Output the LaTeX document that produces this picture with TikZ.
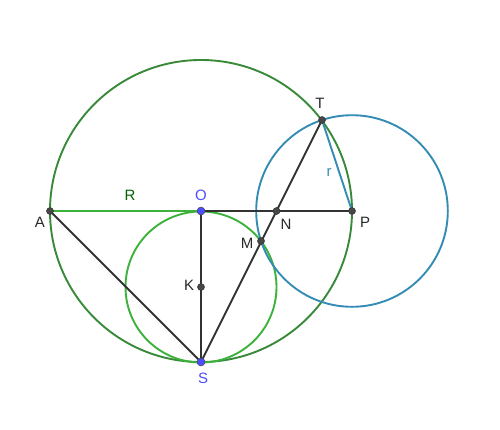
\documentclass[tikz,border=0pt]{standalone}
\usepackage{fontspec}
\setmainfont{Liberation Sans}
\definecolor{biggreen}{RGB}{56,138,56}
\definecolor{smallgreen}{RGB}{60,178,60}
\definecolor{circblue}{RGB}{52,140,180}
\definecolor{dkgreen}{RGB}{0,100,0}
\definecolor{ptblue}{RGB}{77,77,255}
\definecolor{lbl}{RGB}{40,40,40}
\definecolor{seg}{RGB}{50,50,50}
\begin{document}
\begin{tikzpicture}[x=1pt,y=-1pt,
  pt/.style={circle,fill=seg!90,draw=black!80,line width=0.5pt,inner sep=0pt,minimum size=7pt},
  bpt/.style={circle,fill=ptblue,draw=black!70,line width=0.5pt,inner sep=0pt,minimum size=8pt},
  lab/.style={font=\fontsize{15}{15}\selectfont,text=lbl,inner sep=0pt},
  segline/.style={draw=seg,line width=1.9pt},
  circ/.style={line width=1.9pt}]
\useasboundingbox (0,0) rectangle (500,429);
% circles
\draw[circ,biggreen] (201,211) circle (151);
\draw[circ,smallgreen] (201,287) circle (75.5);
\draw[circ,circblue] (352,211) circle (95.8);
% points
\coordinate (cA) at (50,211);
\coordinate (cO) at (201,211);
\coordinate (cP) at (352,211);
\coordinate (cS) at (201,362);
\coordinate (cT) at (322,120);
\coordinate (cK) at (201,287);
\coordinate (cN) at (276.5,211);
\coordinate (cM) at (261,241);
% segments
\draw[line width=1.9pt,smallgreen] (cA) -- (cO);
\draw[segline] (cO) -- (cP);
\draw[segline] (cA) -- (cS);
\draw[segline] (cO) -- (cS);
\draw[segline] (cS) -- (cT);
\draw[line width=1.9pt,circblue] (cT) -- (cP);
% point markers
\node[pt] (A) at (cA) {};
\node[pt] (P) at (cP) {};
\node[pt] (T) at (cT) {};
\node[pt] (K) at (cK) {};
\node[pt] (N) at (cN) {};
\node[pt] (M) at (cM) {};
\node[bpt] (O) at (cO) {};
\node[bpt] (S) at (cS) {};
% labels
\node[lab] (lA) at (40,222) {A};
\node[lab,text=dkgreen] (lR) at (130,195) {R};
\node[lab,text=ptblue] (lO) at (201,195) {O};
\node[lab] (lN) at (286,224) {N};
\node[lab] (lP) at (365,222) {P};
\node[lab] (lM) at (247,243) {M};
\node[lab] (lT) at (320,103) {T};
\node[lab,text=circblue] (lr) at (329,172) {r};
\node[lab] (lK) at (189,285) {K};
\node[lab,text=ptblue] (lS) at (203,378) {S};
\end{tikzpicture}
\end{document}
